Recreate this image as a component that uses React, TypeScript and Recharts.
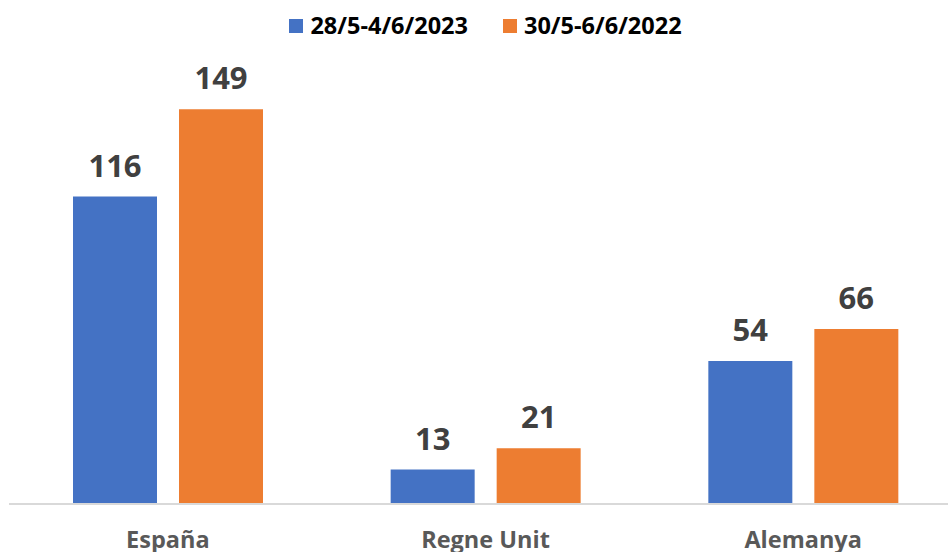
import React from 'react';
import { BarChart, Bar, XAxis, YAxis, LabelList, Legend } from 'recharts';

const categories = ['España', 'Regne Unit', 'Alemanya'];
const series2023 = [116, 13, 54];
const series2022 = [149, 21, 66];
const seriesNames = ['28/5-4/6/2023', '30/5-6/6/2022'];
const seriesColors = ['#4472C4', '#ED7D31'];

const data = categories.map((c, i) => ({ name: c, a: series2023[i], b: series2022[i] }));

const FONT = '"Open Sans", "Noto Sans", sans-serif';

const renderLegend = () => (
  <div style={{ display: 'flex', justifyContent: 'center', alignItems: 'center', fontFamily: FONT, fontWeight: 700, fontSize: 23.5, color: '#000', lineHeight: '30px' }}>
    {seriesNames.map((n, i) => (
      <div key={n} style={{ display: 'flex', alignItems: 'center', marginLeft: i ? 35 : 0 }}>
        <span style={{ display: 'inline-block', width: 14, height: 14, background: seriesColors[i], marginRight: 7, marginTop: 2 }} />
        <span>{n}</span>
      </div>
    ))}
  </div>
);

export default function App() {
  return (
    <div style={{ position: 'absolute', left: 9, top: 0, width: 939, height: 552, overflow: 'hidden', background: '#fff' }}>
      <BarChart width={953} height={570} data={data} margin={{ top: 80, right: 0, bottom: 0, left: 0 }} barSize={84} barGap={22}>
        <XAxis
          dataKey="name"
          axisLine={{ stroke: '#d9d9d9', strokeWidth: 2 }}
          tickLine={false}
          tickSize={0}
          tickMargin={27}
          height={66}
          interval={0}
          tick={{ fill: '#595959', fontSize: 23.5, fontWeight: 700, fontFamily: FONT }}
        />
        <YAxis hide domain={[0, 160]} />
        <Legend
          layout="horizontal"
          verticalAlign="middle"
          align="center"
          content={renderLegend}
          wrapperStyle={{ top: 10, left: 0, width: 953 }}
        />
        <Bar dataKey="a" fill={seriesColors[0]} isAnimationActive={false}>
          <LabelList dataKey="a" position="top" offset={20} style={{ fill: '#404040', fontSize: 31, fontWeight: 700, fontFamily: FONT }} />
        </Bar>
        <Bar dataKey="b" fill={seriesColors[1]} isAnimationActive={false}>
          <LabelList dataKey="b" position="top" offset={20} style={{ fill: '#404040', fontSize: 31, fontWeight: 700, fontFamily: FONT }} />
        </Bar>
      </BarChart>
    </div>
  );
}
